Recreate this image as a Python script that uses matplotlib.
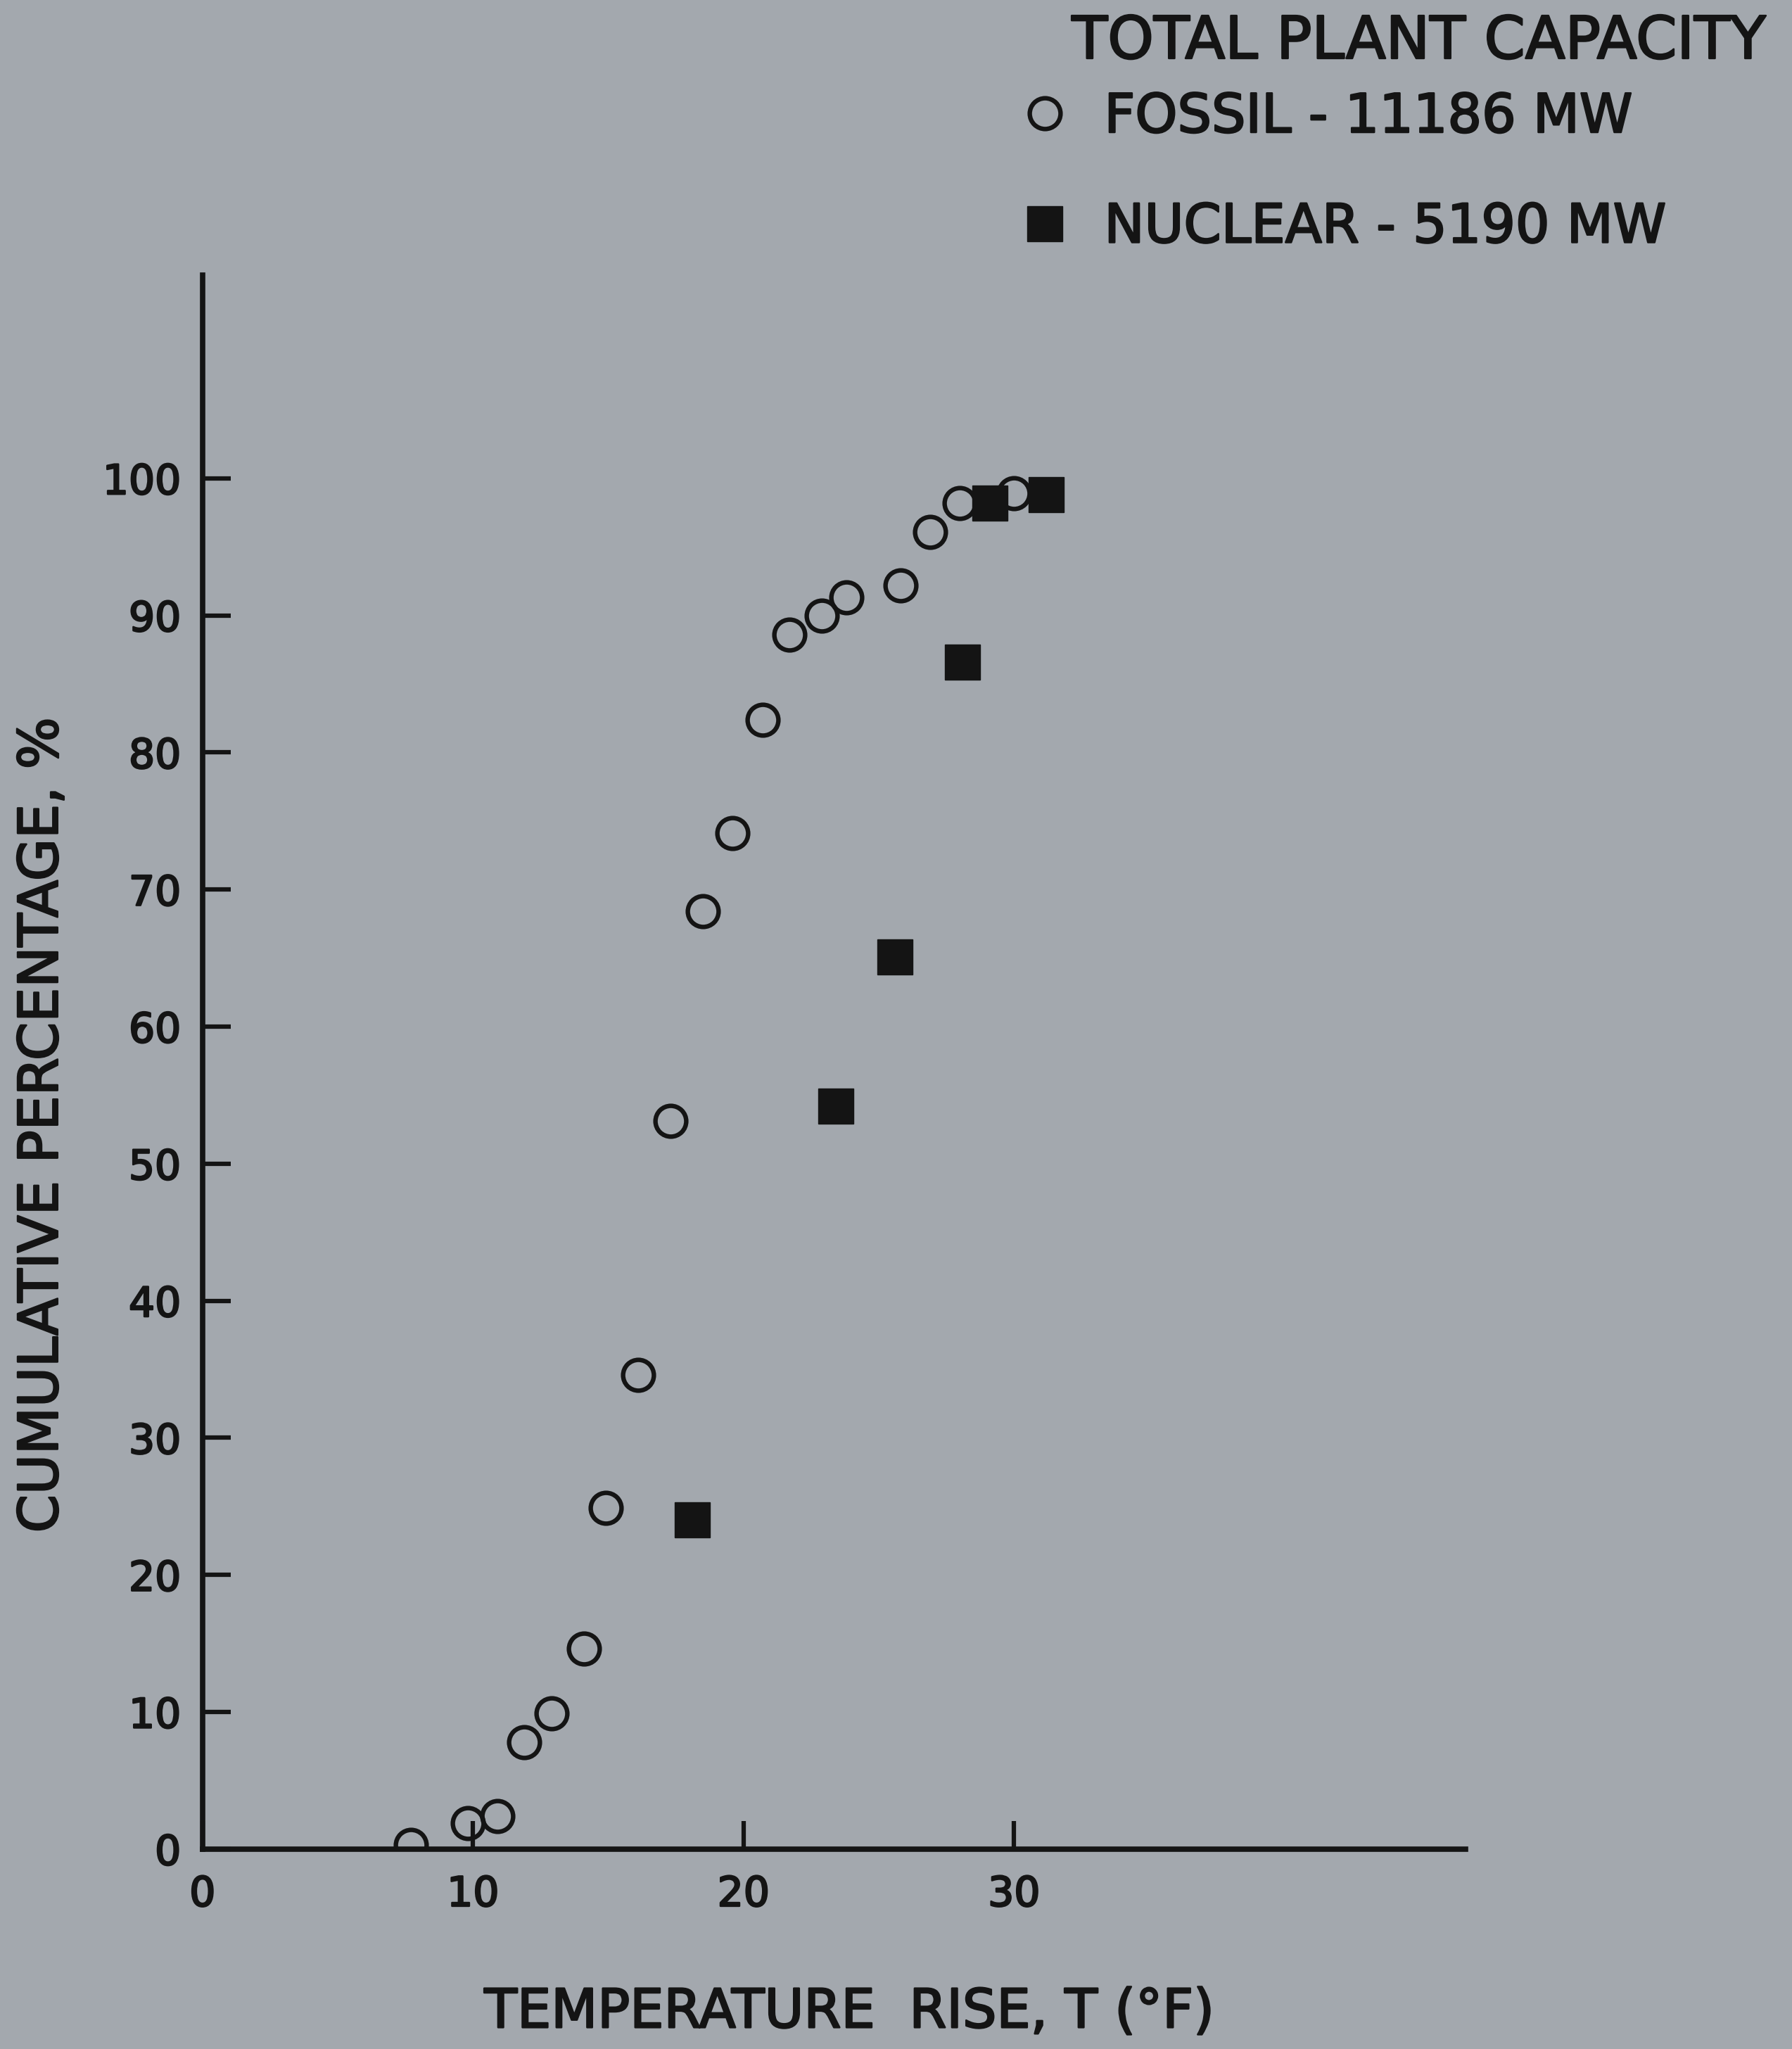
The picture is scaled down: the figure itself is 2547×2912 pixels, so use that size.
import matplotlib
matplotlib.use("Agg")
import matplotlib.pyplot as plt
import matplotlib.patheffects as pe

# ---- data ----
fossil_T = [7.7, 9.8, 10.9, 11.9, 12.9, 14.1, 14.9, 16.1, 17.3, 18.5, 19.6, 20.7,
            21.7, 22.9, 23.8, 25.8, 26.9, 28.0, 30.0]
fossil_pct = [0.3, 1.9, 2.4, 7.8, 9.9, 14.6, 24.9, 34.6, 53.1, 68.4, 74.1, 82.4,
              88.6, 90.0, 91.3, 92.2, 96.1, 98.2, 98.9]
nuclear_T = [18.1, 23.4, 25.6, 28.1, 29.1, 31.2]
nuclear_pct = [24.0, 54.2, 65.1, 86.6, 98.2, 98.8]

x_ticks = [0, 10, 20, 30]
y_ticks = [0, 10, 20, 30, 40, 50, 60, 70, 80, 90, 100]

legend_title = "TOTAL PLANT CAPACITY"
fossil_label = "FOSSIL - 11186 MW"
nuclear_label = "NUCLEAR - 5190 MW"
xlabel = "TEMPERATURE  RISE, T (°F)"
ylabel = "CUMULATIVE PERCENTAGE, %"

# ---- style ----
bg = "#a3a8ae"
ink = "#141414"
plt.rcParams["font.family"] = ["DejaVu Sans"]
thick = [pe.withStroke(linewidth=1.8, foreground=ink)]

fig = plt.figure(figsize=(25.47, 29.12), dpi=100, facecolor=bg)
ax = fig.add_axes([0.113, 0.0976, 0.705, 0.768], facecolor=bg)

ax.plot(fossil_T, fossil_pct, linestyle="none", marker="o", ms=31.5, mew=4.6,
        mfc="none", mec=ink, label=fossil_label)
ax.plot(nuclear_T, nuclear_pct, linestyle="none", marker="s", ms=36, mew=1,
        mfc=ink, mec=ink, label=nuclear_label)

ax.set_xlim(0, 46.7)
ax.set_ylim(0, 114.8)

for s in ["top", "right"]:
    ax.spines[s].set_visible(False)
for s in ["left", "bottom"]:
    ax.spines[s].set_linewidth(5.5)
    ax.spines[s].set_color(ink)

ax.set_xticks(x_ticks)
ax.set_yticks(y_ticks)
ax.tick_params(direction="in", length=29, width=4.5, color=ink,
               labelsize=42, labelcolor=ink)
ax.tick_params(axis="y", pad=22)
ax.tick_params(axis="x", pad=26)
for lab in ax.get_xticklabels() + ax.get_yticklabels():
    lab.set_path_effects(thick)

ax.set_xlabel(xlabel, fontsize=55, color=ink, va="center", path_effects=thick)
ax.xaxis.set_label_coords(0.512, -0.104)
ax.set_ylabel(ylabel, fontsize=56, color=ink, va="center", path_effects=thick)
ax.yaxis.set_label_coords(-0.127, 0.46)

fig.text(820 / 1371, 1 - 32 / 1568, legend_title, fontsize=60, color=ink,
         ha="left", va="center", path_effects=thick)
leg = ax.legend(loc="upper left", bbox_to_anchor=(779 / 1371, 1 - 70 / 1568),
                bbox_transform=fig.transFigure, frameon=False, fontsize=55,
                numpoints=1, handlelength=1.0, handletextpad=0.6,
                labelspacing=1.08, borderpad=0, borderaxespad=0)
for t in leg.get_texts():
    t.set_color(ink)
    t.set_path_effects(thick)

fig.savefig("out.png", dpi=100, facecolor=bg)
